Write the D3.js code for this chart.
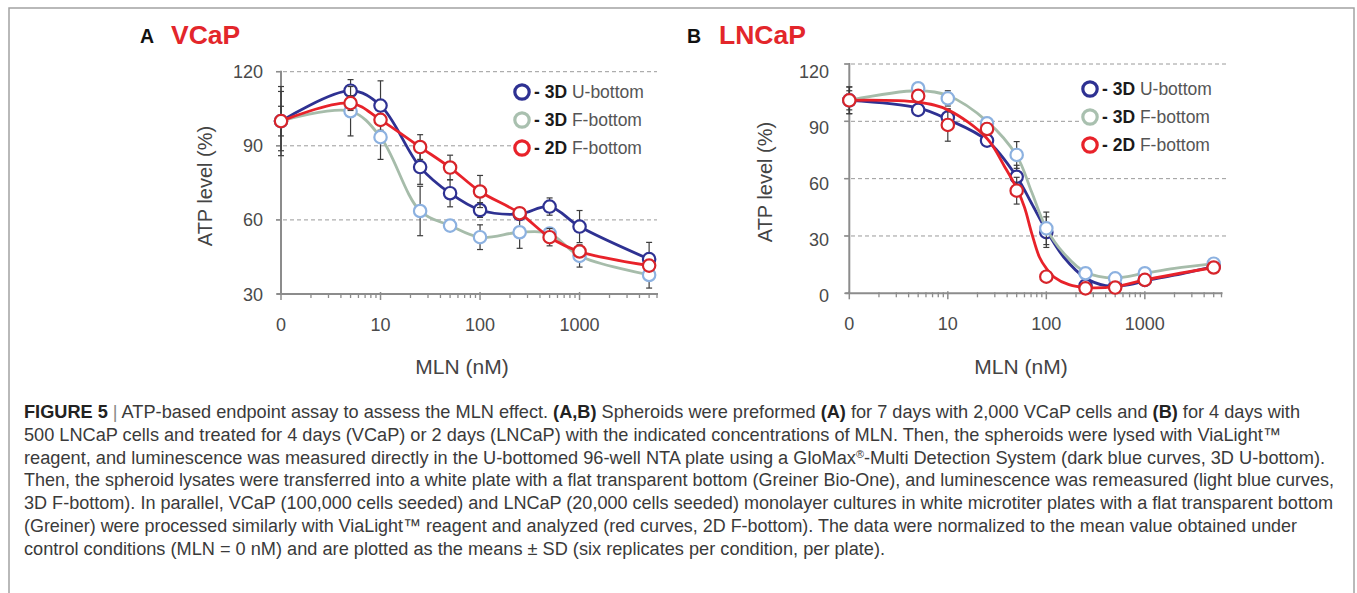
<!DOCTYPE html>
<html><head><meta charset="utf-8">
<script src="https://cdn.jsdelivr.net/npm/d3@7"></script>
<style>body{margin:0;background:#fff} svg{display:block}</style>
</head><body>
<svg id="c" width="1357" height="593"></svg>
<script>
// ---------- DATA ----------
const conc = [0, 5, 10, 25, 50, 100, 250, 500, 1000, 5000];
const xTickValues = [1, 10, 100, 1000];
const xTickLabels = ["0", "10", "100", "1000"];
const yTicksA = [30, 60, 90, 120];
const yTicksB = [0, 30, 60, 90, 120];
const legendBold = ["- 3D", "- 3D", "- 2D"];
const legendRest = ["U-bottom", "F-bottom", "F-bottom"];

// Panel A (VCaP) - means and SD
const vcapU    = [100, 112.3, 106.3, 81.4, 70.8, 64.0, 62.4, 65.4, 57.3, 44.1];
const vcapUsd  = [14, 4.5, 10, 7, 5.5, 3, 2, 3.5, 6.5, 6.8];
const vcapF    = [100, 104.0, 93.5, 63.6, 57.7, 53.0, 55.0, 54.5, 45.4, 37.7];
const vcapFsd  = [12, 10, 9, 10, 2, 5, 6.5, 2, 4.5, 5.3];
const vcap2D   = [100, 107.3, 100.5, 89.5, 81.2, 71.5, 62.7, 53.0, 47.2, 41.5];
const vcap2Dsd = [6, 3, 2, 5, 5, 6.5, 2, 3.5, 2, 2];

// Panel B (LNCaP) - means and SD
const lncapU    = [101, 96.0, 92.0, 79.9, 61.0, 32.0, 4.0, 3.8, 7.0, 14.0];
const lncapUsd  = [7, 2, 4, 3, 6, 8, 2, 2, 2, 2];
const lncapF    = [101, 107.3, 102.0, 89.0, 72.4, 34.0, 10.5, 7.8, 10.5, 15.5];
const lncapFsd  = [5, 3, 4, 3, 7, 8.5, 2, 2, 2, 2];
const lncap2D   = [101, 103.3, 88.1, 86.0, 53.7, 8.7, 2.6, 3.0, 7.0, 13.5];
const lncap2Dsd = [7, 2, 8.5, 3, 7, 2, 1.5, 1.5, 1.5, 1.5];

// Panel B fitted curves
const fitUc  = [1, 5, 10, 25, 50, 71, 100, 150, 250, 400, 700, 1000, 2000, 5000];
const fitUv  = [101, 97, 91, 80, 61, 47, 33, 19, 8, 4, 4.5, 6.5, 9.5, 14];
const fitFc  = [1, 5, 10, 25, 50, 71, 100, 150, 250, 500, 1000, 2000, 5000];
const fitFv  = [101, 106, 103.5, 90, 72, 53, 34, 21, 11, 8, 10.5, 13, 15.5];
const fit2Dc = [1, 5, 10, 25, 38, 50, 60, 71, 85, 100, 120, 170, 250, 500, 1000, 5000];
const fit2Dv = [101, 100, 96, 81, 66, 55, 45, 31.5, 19, 13, 8.5, 4.5, 3, 3.5, 7, 13.5];

// Caption
const captionLines = [
  [["FIGURE 5","b"],[" | ","sep"],["ATP-based endpoint assay to assess the MLN effect. "],["(A,B)","b"],[" Spheroids were preformed "],["(A)","b"],[" for 7 days with 2,000 VCaP cells and "],["(B)","b"],[" for 4 days with"]],
  [["500 LNCaP cells and treated for 4 days (VCaP) or 2 days (LNCaP) with the indicated concentrations of MLN. Then, the spheroids were lysed with ViaLight™"]],
  [["reagent, and luminescence was measured directly in the U-bottomed 96-well NTA plate using a GloMax"],["®","sup"],["-Multi Detection System (dark blue curves, 3D U-bottom)."]],
  [["Then, the spheroid lysates were transferred into a white plate with a flat transparent bottom (Greiner Bio-One), and luminescence was remeasured (light blue curves,"]],
  [["3D F-bottom). In parallel, VCaP (100,000 cells seeded) and LNCaP (20,000 cells seeded) monolayer cultures in white microtiter plates with a flat transparent bottom"]],
  [["(Greiner) were processed similarly with ViaLight™ reagent and analyzed (red curves, 2D F-bottom). The data were normalized to the mean value obtained under"]],
  [["control conditions (MLN = 0 nM) and are plotted as the means ± SD (six replicates per condition, per plate)."]]
];
const captionEnds = [1300, 1281, 1325, 1334, 1333, 1297, 885];

// ---------- DRAW ----------
const FONT = "'Liberation Sans', Arial, Helvetica, sans-serif";
const svg = d3.select("#c").attr("font-family", FONT);

svg.append("rect").attr("x", 9).attr("y", 8).attr("width", 1345).attr("height", 620)
  .attr("fill", "none").attr("stroke", "#a3a3a3").attr("stroke-width", 1.5);

const COL = {
  U:  {line: "#2e3192", circ: "#2e3192", leg: "#2e3192"},
  F:  {line: "#a6bcaa", circ: "#8cb1e0", leg: "#a9c0af"},
  D2: {line: "#e8222a", circ: "#d7242a", leg: "#e8222a"}
};

function panel(cfg) {
  const g = svg.append("g");
  const x = d3.scaleLog().domain([1, 6000]).range(cfg.xr);
  const y = d3.scaleLinear().domain(cfg.yd).range(cfg.yr);
  const yl = d3.scaleLinear().domain(cfg.yd).range(cfg.ylr);
  const xc = c => x(c === 0 ? 1 : c);
  const axisCol = "#8c8c8c";

  g.selectAll(".grid").data(cfg.grid).join("line")
    .attr("x1", cfg.gridX[0]).attr("x2", cfg.gridX[1])
    .attr("y1", d => y(d)).attr("y2", d => y(d))
    .attr("stroke", "#9a9a9a").attr("stroke-width", 1).attr("stroke-dasharray", "4,3");

  // legend background (hides gridlines behind the legend)
  g.append("rect").attr("x", cfg.legX - 11).attr("y", cfg.legY[0] - 13)
    .attr("width", cfg.gridX[1] - cfg.legX + 12).attr("height", cfg.legY[2] - cfg.legY[0] + 26)
    .attr("fill", "#fff");

  g.append("line").attr("x1", x(1)).attr("x2", x(1))
    .attr("y1", y(cfg.yd[1]) - 1).attr("y2", y(cfg.yd[0]))
    .attr("stroke", axisCol).attr("stroke-width", 2);
  g.selectAll(".yt").data(cfg.yTicks).join("line")
    .attr("x1", x(1) - 5).attr("x2", x(1)).attr("y1", d => y(d)).attr("y2", d => y(d))
    .attr("stroke", axisCol).attr("stroke-width", 1.5);
  g.selectAll(".yl").data(cfg.yTicks).join("text")
    .attr("x", cfg.yLabX).attr("y", d => yl(d) + 6.5).attr("text-anchor", "end")
    .attr("font-size", 18).attr("fill", "#4a4a4a").text(d => d);

  const y0 = y(cfg.yd[0]);
  g.append("line").attr("x1", x(1) - 4).attr("x2", cfg.xr[1] + 1).attr("y1", y0).attr("y2", y0)
    .attr("stroke", axisCol).attr("stroke-width", 2);
  const minor = [];
  xTickValues.forEach(d => { for (let k = 2; k <= 9; k++) if (d * k <= 6000) minor.push(d * k); });
  g.selectAll(".xm").data(minor).join("line")
    .attr("x1", d => x(d)).attr("x2", d => x(d)).attr("y1", y0 - 1).attr("y2", y0 + 4)
    .attr("stroke", axisCol).attr("stroke-width", 1.3);
  g.selectAll(".xM").data(xTickValues).join("line")
    .attr("x1", d => x(d)).attr("x2", d => x(d)).attr("y1", y0 - 2).attr("y2", y0 + 6)
    .attr("stroke", axisCol).attr("stroke-width", 1.5);
  g.selectAll(".xl").data(xTickValues).join("text")
    .attr("x", d => x(d)).attr("y", y0 + 37).attr("text-anchor", "middle")
    .attr("font-size", 18).attr("fill", "#4a4a4a").text((d, i) => xTickLabels[i]);

  g.append("text").attr("x", cfg.letterX).attr("y", 42.5).attr("font-size", 19.5)
    .attr("font-weight", "bold").attr("fill", "#111").text(cfg.letter);
  g.append("text").attr("x", cfg.titleX).attr("y", 44).attr("font-size", 26.5)
    .attr("font-weight", "bold").attr("fill", "#e3262b").text(cfg.title);
  g.append("text").attr("transform", `translate(${cfg.yTitle[0]},${cfg.yTitle[1]}) rotate(-90)`)
    .attr("text-anchor", "middle").attr("font-size", 20).attr("fill", "#444").text("ATP level (%)");
  g.append("text").attr("x", cfg.xTitle[0]).attr("y", cfg.xTitle[1]).attr("text-anchor", "middle")
    .attr("font-size", 21).attr("fill", "#444").text("MLN (nM)");

  const line = d3.line().x(d => xc(d.c)).y(d => y(d.v)).curve(d3.curveCatmullRom.alpha(0.5));
  cfg.series.forEach(s => {
    const pts = conc.map((c, i) => ({c, v: s.v[i], sd: s.sd[i]}));
    const eb = g.append("g").attr("stroke", "#3c3c3c").attr("stroke-width", 1.2);
    pts.forEach(p => {
      const cx = xc(p.c), t = y(p.v + p.sd), b = y(p.v - p.sd);
      eb.append("line").attr("x1", cx).attr("x2", cx).attr("y1", t).attr("y2", b);
      eb.append("line").attr("x1", cx - 3).attr("x2", cx + 3).attr("y1", t).attr("y2", t);
      eb.append("line").attr("x1", cx - 3).attr("x2", cx + 3).attr("y1", b).attr("y2", b);
    });
    const curvePts = s.fitC ? s.fitC.map((c, i) => ({c, v: s.fitV[i]})) : pts;
    g.append("path").datum(curvePts).attr("d", line).attr("fill", "none")
      .attr("stroke", s.col.line).attr("stroke-width", 2.8);
    g.selectAll(null).data(pts).join("circle")
      .attr("cx", d => xc(d.c)).attr("cy", d => y(d.v)).attr("r", 6.2)
      .attr("fill", "#fff").attr("stroke", s.col.circ).attr("stroke-width", 2.2);
  });

  cfg.series.forEach((s, i) => {
    const ly = cfg.legY[i];
    g.append("circle").attr("cx", cfg.legX).attr("cy", ly).attr("r", 7.2)
      .attr("fill", "#fff").attr("stroke", s.col.leg).attr("stroke-width", 3.2);
    const t = g.append("text").attr("x", cfg.legX + 12).attr("y", ly + 6.3).attr("font-size", 17.5);
    t.append("tspan").attr("font-weight", "bold").attr("fill", "#1a1a1a").text(legendBold[i]);
    t.append("tspan").attr("fill", "#555").text(" " + legendRest[i]);
  });
}

panel({
  xr: [281, 657], yd: [30, 120], yr: [294, 71.7], ylr: [294, 71.7],
  grid: [60, 90, 120], gridX: [276, 657], yTicks: yTicksA, yLabX: 263,
  letter: "A", letterX: 140, title: "VCaP", titleX: 171,
  yTitle: [212, 186], xTitle: [462, 374],
  legX: 522, legY: [92, 120, 148],
  series: [
    {v: vcapU, sd: vcapUsd, col: COL.U},
    {v: vcapF, sd: vcapFsd, col: COL.F},
    {v: vcap2D, sd: vcap2Dsd, col: COL.D2}
  ]
});

panel({
  xr: [849.3, 1221.5], yd: [0, 120], yr: [293.3, 64], ylr: [295, 71.7],
  grid: [30, 60, 90, 120], gridX: [844, 1226], yTicks: yTicksB, yLabX: 829,
  letter: "B", letterX: 687, title: "LNCaP", titleX: 719,
  yTitle: [772, 182], xTitle: [1021, 374],
  legX: 1090, legY: [89, 117, 145],
  series: [
    {v: lncapU, sd: lncapUsd, col: COL.U, fitC: fitUc, fitV: fitUv},
    {v: lncapF, sd: lncapFsd, col: COL.F, fitC: fitFc, fitV: fitFv},
    {v: lncap2D, sd: lncap2Dsd, col: COL.D2, fitC: fit2Dc, fitV: fit2Dv}
  ]
});

// caption
const capX = 24, capY0 = 418, capDY = 22.8, baseFs = 16;
const capNodes = captionLines.map((segs, i) => {
  const t = svg.append("text").attr("x", capX).attr("y", capY0 + i * capDY)
    .attr("font-size", baseFs).attr("fill", "#3a3a3a");
  segs.forEach(s => {
    const ts = t.append("tspan").text(s[0]);
    if (s[1] === "b") ts.attr("font-weight", "bold").attr("fill", "#222");
    if (s[1] === "sep") ts.attr("fill", "#888");
    if (s[1] === "sup") ts.attr("font-size", "0.6em").attr("baseline-shift", "super");
  });
  return t;
});
let ratio = 0;
capNodes.slice(0, 6).forEach((t, i) => { ratio += (captionEnds[i] - capX) / t.node().getComputedTextLength(); });
ratio /= 6;
capNodes.forEach((t, i) => {
  t.attr("font-size", baseFs * ratio);
  t.attr("textLength", captionEnds[i] - capX).attr("lengthAdjust", "spacingAndGlyphs");
});
</script>
</body></html>
